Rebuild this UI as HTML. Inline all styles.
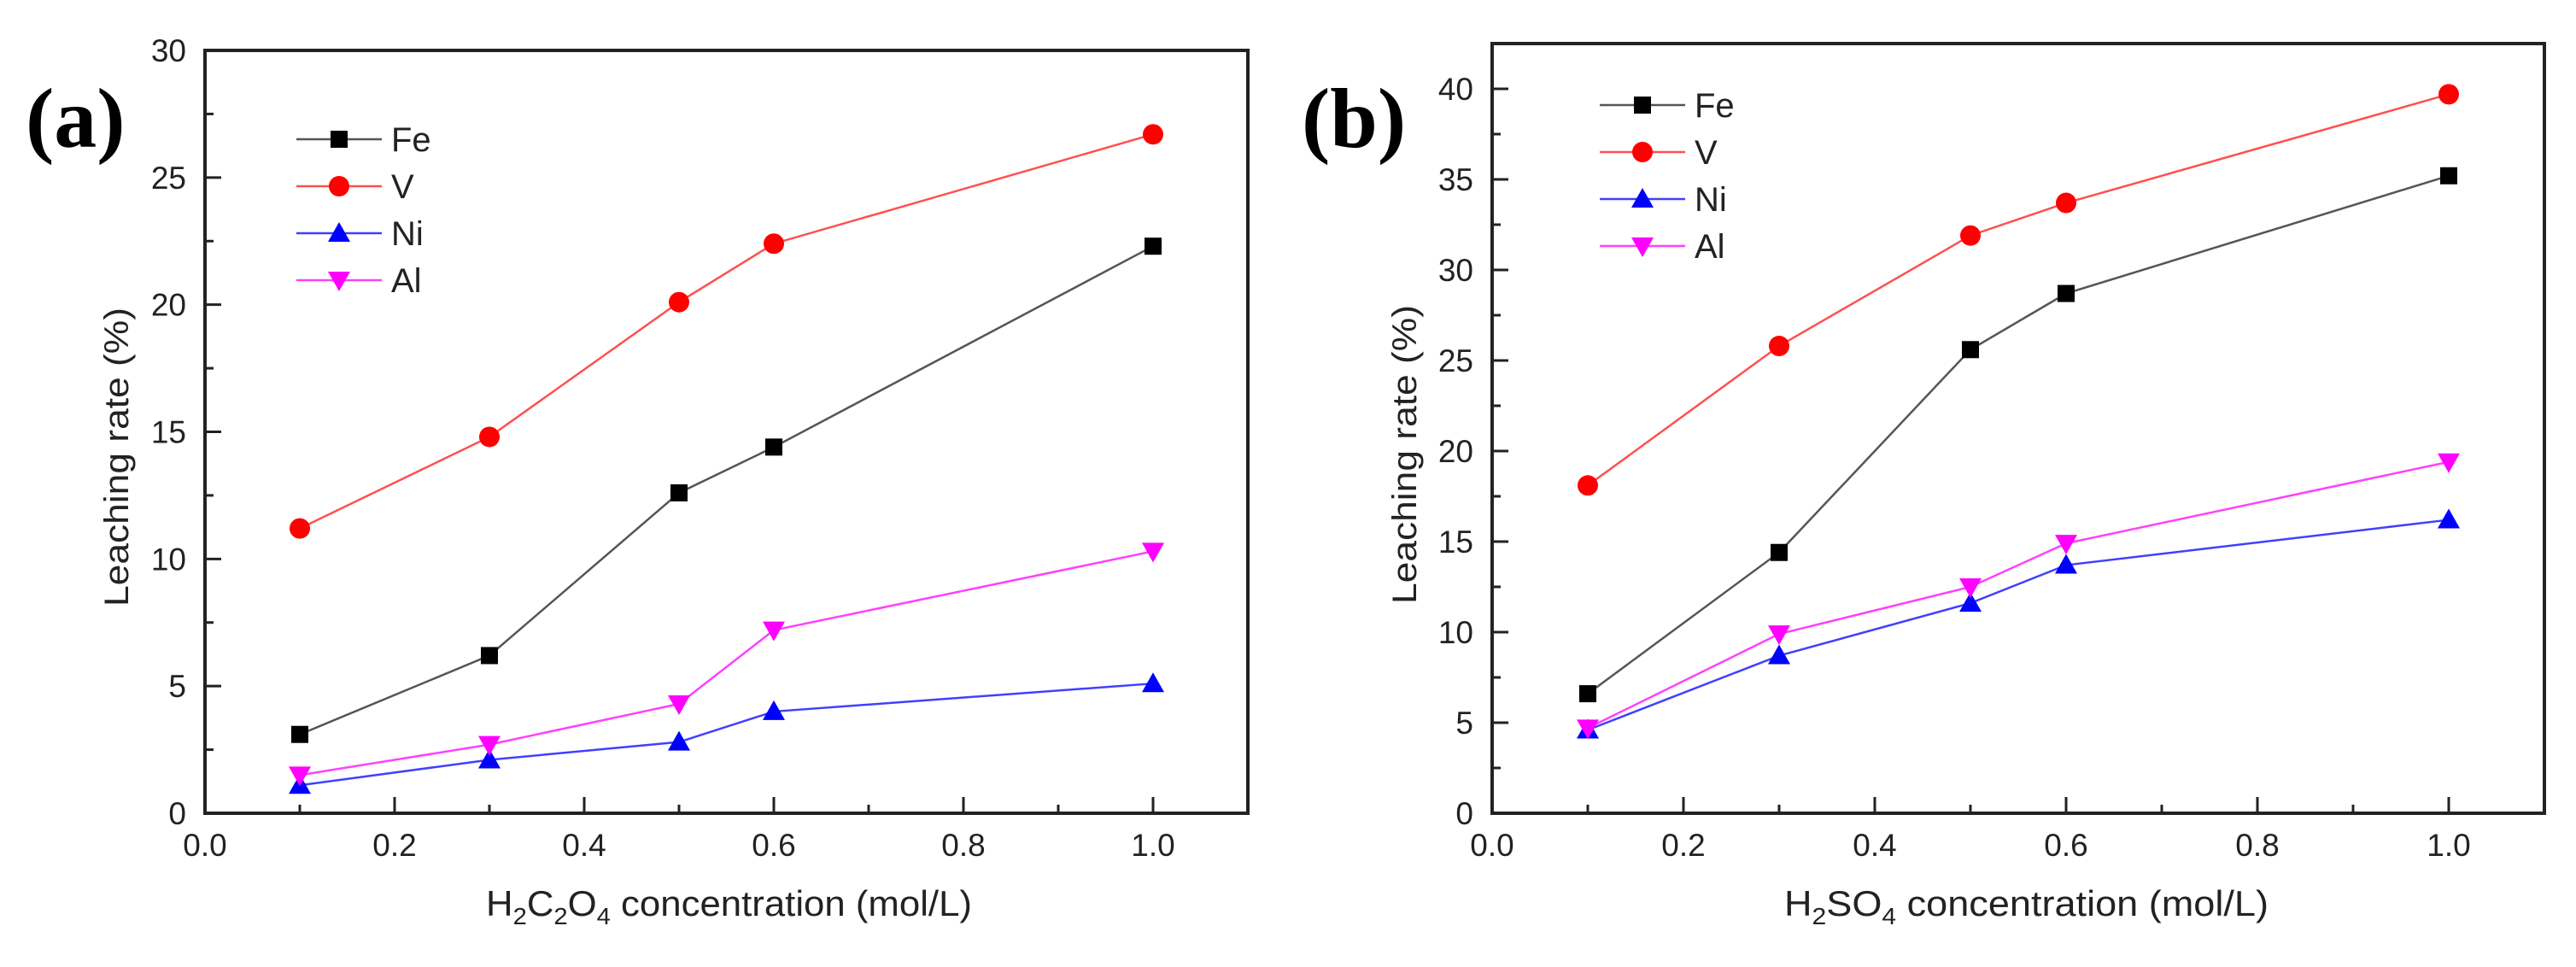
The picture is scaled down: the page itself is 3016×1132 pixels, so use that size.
<!DOCTYPE html>
<html><head><meta charset="utf-8"><style>
html,body{margin:0;padding:0;background:#fff}
svg{display:block}
text{font-family:"Liberation Sans",Arial,sans-serif;fill:#222}
</style></head><body>
<svg id="fig" width="3016" height="1132" viewBox="0 0 3016 1132" xmlns="http://www.w3.org/2000/svg"></svg>
<script>
const xValues = [0.1, 0.3, 0.5, 0.6, 1.0];
const seriesNames = ["Fe", "V", "Ni", "Al"];
const aFe = [3.1, 6.2, 12.6, 14.4, 22.3];
const aV  = [11.2, 14.8, 20.1, 22.4, 26.7];
const aNi = [1.1, 2.1, 2.8, 4.0, 5.1];
const aAl = [1.5, 2.7, 4.3, 7.2, 10.3];
const bFe = [6.6, 14.4, 25.6, 28.7, 35.2];
const bV  = [18.1, 25.8, 31.9, 33.7, 39.7];
const bNi = [4.6, 8.7, 11.6, 13.7, 16.2];
const bAl = [4.7, 9.9, 12.5, 14.9, 19.4];
const xTickLabels = ["0.0","0.2","0.4","0.6","0.8","1.0"];
const aYTickLabels = ["0","5","10","15","20","25","30"];
const bYTickLabels = ["0","5","10","15","20","25","30","35","40"];

const NS="http://www.w3.org/2000/svg";
const svg=document.getElementById('fig');
function el(tag,attrs,parent){const e=document.createElementNS(NS,tag);for(const k in attrs)e.setAttribute(k,attrs[k]);(parent||svg).appendChild(e);return e;}
const colors={Fe:"#000000",V:"#ff0000",Ni:"#0000ff",Al:"#ff00ff"};
const lineColors={Fe:"#555555",V:"#ff5050",Ni:"#4040ff",Al:"#ff40ff"};

function marker(g,name,cx,cy){
  let m;
  if(name==="Fe") m=el('rect',{x:cx-10,y:cy-10,width:20,height:20,fill:colors.Fe},g);
  else if(name==="V") m=el('circle',{cx:cx,cy:cy,r:12,fill:colors.V},g);
  else if(name==="Ni") m=el('polygon',{points:`${cx-13},${cy+10} ${cx+13},${cy+10} ${cx},${cy-13}`,fill:colors.Ni},g);
  else m=el('polygon',{points:`${cx-13},${cy-10} ${cx+13},${cy-10} ${cx},${cy+13}`,fill:colors.Al},g);
  return m;
}

function panel(cfg){
  const g=el('g',{});
  
  
  const X=v=>cfg.left+(v/1.1)*(cfg.right-cfg.left);
  const Y=v=>cfg.bottom-(v/cfg.ymax)*(cfg.bottom-cfg.top);
  // ticks x
  for(let i=0;i<=10;i++){
    const v=i*0.1, x=X(v), major=i%2===0;
    if(i>0){const t=el('line',{x1:x,x2:x,y1:cfg.bottom,y2:cfg.bottom-(major?19:10),stroke:"#222","stroke-width":3},g);
    }
  }
  xTickLabels.forEach((lab,i)=>{
    const t=el('text',{x:X(i*0.2),y:1002,"font-size":37,"text-anchor":"middle"},g);t.textContent=lab;
    
  });
  // ticks y
  const n=cfg.yLabels.length;
  for(let i=1;i<=(n-1)*2+(cfg.extraMinor?1:0);i++){
    const v=i*2.5, y=Y(v), major=i%2===0;
    if(v>=cfg.ymax) continue;
    const t=el('line',{x1:cfg.left,x2:cfg.left+(major?19:10),y1:y,y2:y,stroke:"#222","stroke-width":3},g);
    
  }
  cfg.yLabels.forEach((lab,i)=>{
    const t=el('text',{x:cfg.left-22,y:Y(i*5)+13,"font-size":37,"text-anchor":"end"},g);t.textContent=lab;
    
  });
  // frame
  const f=el('rect',{x:cfg.left,y:cfg.top,width:cfg.right-cfg.left,height:cfg.bottom-cfg.top,fill:"none",stroke:"#222","stroke-width":4},g);
  
  // series
  seriesNames.forEach((name,si)=>{
    const vals=cfg.data[si];
    const sg=el('g',{},g);
    
    
    const pts=vals.map((v,i)=>X(xValues[i])+","+Y(v)).join(" ");
    const pl=el('polyline',{points:pts,fill:"none",stroke:lineColors[name],"stroke-width":2.5},sg);
    
    
    vals.forEach((v,i)=>{
      const m=marker(sg,name,X(xValues[i]),Y(v));
      
      
    });
    // legend
    const ly=cfg.legY+si*55;
    const lg=el('g',{},g);
    
    
    el('line',{x1:cfg.legX,x2:cfg.legX+100,y1:ly,y2:ly,stroke:lineColors[name],"stroke-width":2.5},lg);
    marker(lg,name,cfg.legX+50,ly);
    const lt=el('text',{x:cfg.legX+111,y:ly+14,"font-size":40},lg);lt.textContent=name;
  });
  // axis titles
  const yt=el('text',{x:0,y:0,"font-size":40,"text-anchor":"middle",transform:`translate(${cfg.ytX},${cfg.ytY}) rotate(-90)`,textLength:350,lengthAdjust:"spacingAndGlyphs"},g);
  yt.textContent="Leaching rate (%)";
  
  const xt=el('text',{x:cfg.xtX,y:1072,"font-size":42,"text-anchor":"start",textLength:cfg.xtLen,lengthAdjust:"spacingAndGlyphs"},g);
  xt.innerHTML=cfg.xTitle;
  
  const pl=el('text',{x:cfg.plX,y:172,"font-size":100,"font-weight":"bold",style:"font-family:'Liberation Serif',serif;fill:#000"},g);
  pl.textContent=cfg.label;
  
}

panel({id:"a",left:240,right:1461,top:59,bottom:952,ymax:30,yLabels:aYTickLabels,extraMinor:true,
  data:[aFe,aV,aNi,aAl],legX:347,legY:163,ytX:150,ytY:535,xtX:569,xtLen:569,
  xTitle:'H<tspan dy="10" font-size="28">2</tspan><tspan dy="-10">C</tspan><tspan dy="10" font-size="28">2</tspan><tspan dy="-10">O</tspan><tspan dy="10" font-size="28">4</tspan><tspan dy="-10"> concentration (mol/L)</tspan>',
  plX:30,label:"(a)"});
panel({id:"b",left:1747,right:2979,top:51,bottom:952,ymax:42.5,yLabels:bYTickLabels,extraMinor:true,
  data:[bFe,bV,bNi,bAl],legX:1873,legY:123,ytX:1658,ytY:532,xtX:2089,xtLen:567,
  xTitle:'H<tspan dy="10" font-size="28">2</tspan><tspan dy="-10">SO</tspan><tspan dy="10" font-size="28">4</tspan><tspan dy="-10"> concentration (mol/L)</tspan>',
  plX:1524,label:"(b)"});
</script>
</body></html>
